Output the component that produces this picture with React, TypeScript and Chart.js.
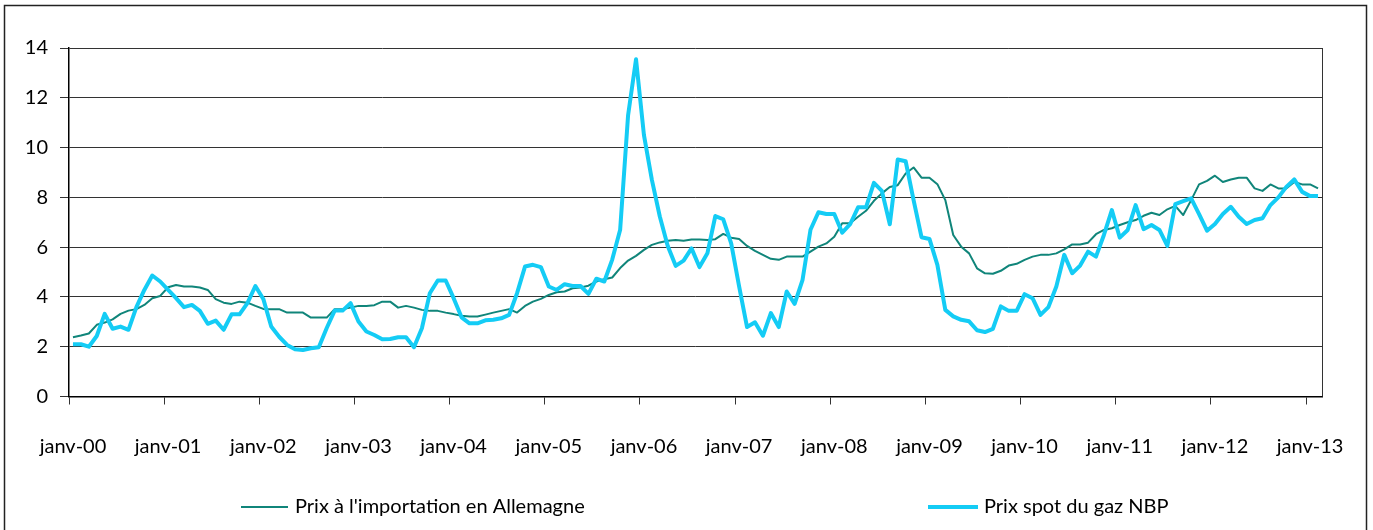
import React, { useEffect, useRef } from "react";
import { Chart, registerables } from "chart.js";

Chart.register(...registerables);

const MONTHS = ["janv", "févr", "mars", "avr", "mai", "juin", "juil", "août", "sept", "oct", "nov", "déc"];
const YEARS = ["00", "01", "02", "03", "04", "05", "06", "07", "08", "09", "10", "11", "12", "13"];
const MONTH_COUNT = 158;
const categories: string[] = [];
for (let i = 0; i < MONTH_COUNT; i++) {
  categories.push(MONTHS[i % 12] + "-" + YEARS[Math.floor(i / 12)]);
}

const SERIES_IMPORT_LABEL = "Prix à l'importation en Allemagne";
const SERIES_NBP_LABEL = "Prix spot du gaz NBP";

const importPrice = [
  2.38, 2.45, 2.53, 2.88, 2.97, 3.1, 3.32, 3.45, 3.51, 3.68, 3.95, 4.04,
  4.39, 4.48, 4.42, 4.42, 4.38, 4.28, 3.91, 3.77, 3.72, 3.81, 3.77, 3.64,
  3.52, 3.51, 3.51, 3.37, 3.37, 3.37, 3.17, 3.17, 3.17, 3.51, 3.51, 3.57,
  3.64, 3.64, 3.67, 3.81, 3.81, 3.57, 3.64, 3.57, 3.48, 3.44, 3.44, 3.37,
  3.31, 3.24, 3.21, 3.21, 3.29, 3.37, 3.44, 3.51, 3.37, 3.64, 3.81, 3.92,
  4.08, 4.19, 4.22, 4.35, 4.38, 4.45, 4.62, 4.71, 4.78, 5.16, 5.46, 5.65,
  5.89, 6.09, 6.19, 6.26, 6.29, 6.26, 6.31, 6.31, 6.29, 6.32, 6.53, 6.38,
  6.33, 6.05, 5.85, 5.69, 5.53, 5.49, 5.62, 5.62, 5.62, 5.82, 6.02, 6.15,
  6.42, 6.96, 6.96, 7.22, 7.46, 7.86, 8.16, 8.42, 8.49, 8.96, 9.2, 8.79,
  8.79, 8.53, 7.89, 6.49, 6.02, 5.75, 5.15, 4.95, 4.93, 5.05, 5.26, 5.33,
  5.49, 5.62, 5.69, 5.69, 5.75, 5.91, 6.11, 6.11, 6.18, 6.52, 6.69, 6.76,
  6.89, 7.0, 7.09, 7.26, 7.38, 7.29, 7.52, 7.66, 7.29, 7.89, 8.52, 8.66,
  8.87, 8.62, 8.72, 8.79, 8.79, 8.36, 8.26, 8.52, 8.36, 8.36, 8.62, 8.52,
  8.52, 8.36,
];

const nbpPrice = [
  2.1, 2.1, 2.0, 2.43, 3.32, 2.72, 2.81, 2.68, 3.59, 4.28, 4.86, 4.62,
  4.28, 3.95, 3.59, 3.68, 3.44, 2.92, 3.05, 2.68, 3.3, 3.3, 3.75, 4.44,
  3.92, 2.81, 2.4, 2.07, 1.9, 1.87, 1.94, 1.98, 2.75, 3.45, 3.45, 3.75,
  3.01, 2.61, 2.47, 2.3, 2.31, 2.38, 2.38, 1.98, 2.74, 4.15, 4.66, 4.66,
  3.95, 3.18, 2.94, 2.94, 3.06, 3.08, 3.14, 3.28, 4.15, 5.22, 5.29, 5.2,
  4.42, 4.28, 4.51, 4.44, 4.44, 4.12, 4.73, 4.62, 5.5, 6.7, 11.3, 13.55,
  10.5, 8.7, 7.23, 6.05, 5.25, 5.46, 5.95, 5.2, 5.75, 7.25, 7.12, 6.15,
  4.42, 2.79, 2.98, 2.44, 3.35, 2.79, 4.22, 3.72, 4.69, 6.7, 7.4, 7.33,
  7.33, 6.58, 6.92, 7.6, 7.6, 8.58, 8.26, 6.92, 9.52, 9.45, 7.89, 6.4,
  6.33, 5.29, 3.48, 3.22, 3.08, 3.02, 2.66, 2.59, 2.72, 3.62, 3.44, 3.44,
  4.11, 3.95, 3.28, 3.59, 4.42, 5.69, 4.95, 5.26, 5.82, 5.62, 6.49, 7.49,
  6.38, 6.69, 7.69, 6.72, 6.89, 6.69, 6.05, 7.73, 7.85, 7.96, 7.33, 6.66,
  6.93, 7.33, 7.62, 7.22, 6.93, 7.09, 7.16, 7.69, 8.0, 8.42, 8.72, 8.22,
  8.05, 8.05,
];

const Y_MIN = 0;
const Y_MAX = 14;
const Y_STEP = 2;
const LABEL_EVERY = 12;

const TEAL = "#10857A";
const CYAN = "#14CCF5";
const GRID = "#333333";
const FONT = "Lato, 'Open Sans', sans-serif";

const framePlugin = {
  id: "frame",
  afterDraw(chart: any) {
    const { ctx, chartArea } = chart;
    ctx.save();
    // outer frame
    ctx.strokeStyle = "#222";
    ctx.lineWidth = 1.5;
    ctx.strokeRect(4.5, 5.5, 1362, 600);
    // right border of plot area
    ctx.strokeStyle = GRID;
    ctx.lineWidth = 1;
    ctx.beginPath();
    ctx.moveTo(Math.round(chartArea.right) + 0.5, chartArea.top);
    ctx.lineTo(Math.round(chartArea.right) + 0.5, chartArea.bottom);
    ctx.stroke();
    // legend
    const items = [
      { color: TEAL, width: 2, x0: 241, x1: 288, label: SERIES_IMPORT_LABEL, tx: 295 },
      { color: CYAN, width: 4, x0: 928, x1: 978, label: SERIES_NBP_LABEL, tx: 984 },
    ];
    const ly = 507;
    ctx.font = "20px " + FONT;
    ctx.textBaseline = "middle";
    ctx.textAlign = "left";
    items.forEach((it) => {
      ctx.strokeStyle = it.color;
      ctx.lineWidth = it.width;
      ctx.beginPath();
      ctx.moveTo(it.x0, ly);
      ctx.lineTo(it.x1, ly);
      ctx.stroke();
      ctx.fillStyle = "#000";
      ctx.fillText(it.label, it.tx, ly);
    });
    ctx.restore();
  },
};

export default function App() {
  const ref = useRef<HTMLCanvasElement | null>(null);
  useEffect(() => {
    document.body.style.margin = "0";
    if (!ref.current) return;
    const chart = new Chart(ref.current, {
      type: "line",
      data: {
        labels: categories,
        datasets: [
          {
            label: SERIES_IMPORT_LABEL,
            data: importPrice,
            borderColor: TEAL,
            backgroundColor: TEAL,
            borderWidth: 2,
            pointRadius: 0,
            tension: 0,
            borderJoinStyle: "round",
            order: 2,
          },
          {
            label: SERIES_NBP_LABEL,
            data: nbpPrice,
            borderColor: CYAN,
            backgroundColor: CYAN,
            borderWidth: 4,
            pointRadius: 0,
            tension: 0,
            borderJoinStyle: "round",
            order: 1,
          },
        ],
      },
      options: {
        responsive: false,
        animation: false,
        devicePixelRatio: 1,
        layout: { padding: { left: 0, right: 51, top: 48, bottom: 0 } },
        plugins: {
          legend: { display: false },
          tooltip: { enabled: false },
        },
        scales: {
          x: {
            type: "category",
            offset: true,
            afterFit: (scale: any) => {
              scale.height = 530 - 48 - 348.5;
            },
            grid: {
              offset: true,
              drawOnChartArea: false,
              drawTicks: true,
              tickLength: 8,
              color: (ctx: any) => (ctx.index % LABEL_EVERY === 0 ? GRID : "rgba(0,0,0,0)"),
              lineWidth: 1,
            },
            border: { display: true, color: "#000", width: 1.5 },
            ticks: {
              autoSkip: false,
              maxRotation: 0,
              minRotation: 0,
              padding: 30,
              color: "#000",
              font: { family: FONT, size: 20 },
              callback: (_v: any, i: number) => (i % LABEL_EVERY === 0 ? categories[i] : ""),
            },
          },
          y: {
            min: Y_MIN,
            max: Y_MAX,
            afterFit: (scale: any) => {
              scale.width = 69;
            },
            grid: {
              color: GRID,
              lineWidth: 1,
              tickLength: 9,
            },
            border: { display: true, color: "#000", width: 1.5 },
            ticks: {
              stepSize: Y_STEP,
              padding: 12,
              color: "#000",
              font: { family: FONT, size: 20 },
            },
          },
        },
      },
      plugins: [framePlugin],
    });
    return () => chart.destroy();
  }, []);
  return (
    <div style={{ width: 1373, height: 530 }}>
      <canvas ref={ref} width={1373} height={530} style={{ display: "block" }} />
    </div>
  );
}
